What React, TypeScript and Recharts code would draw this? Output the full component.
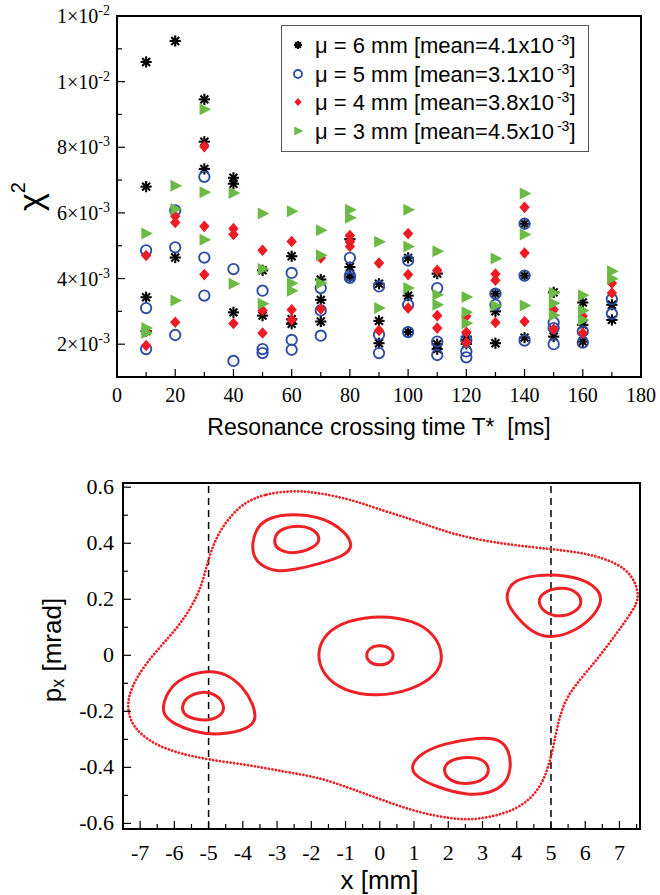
import React from 'react'
import {
  ScatterChart,
  Scatter,
  ComposedChart,
  Line,
  XAxis,
  YAxis,
  Label,
  ReferenceLine,
} from 'recharts'

// chi^2 values, in units of 1e-3, as [T*, chi2]
const mu6 = [
  [10, 10.6], [10, 6.8], [10, 3.43], [10, 2.4],
  [20, 11.24], [20, 4.64],
  [30, 9.46], [30, 8.17], [30, 7.34],
  [40, 7.07], [40, 6.89], [40, 2.97],
  [50, 4.25], [50, 2.87],
  [60, 4.68], [60, 2.76], [60, 2.62],
  [70, 3.97], [70, 3.35], [70, 2.69],
  [80, 5.2], [80, 4.35], [80, 4.05],
  [90, 3.84], [90, 2.71], [90, 2.03],
  [100, 4.63], [100, 3.48], [100, 2.37],
  [110, 4.15], [110, 2.0], [110, 1.85],
  [120, 2.23], [120, 2.01],
  [130, 3.54], [130, 3.0], [130, 2.03],
  [140, 5.67], [140, 4.09], [140, 2.2],
  [150, 3.58], [150, 2.23],
  [160, 3.27], [160, 2.59], [160, 2.08],
  [170, 3.2], [170, 2.74],
]
const mu5 = [
  [10, 4.86], [10, 3.1], [10, 1.85],
  [20, 6.08], [20, 4.95], [20, 2.28],
  [30, 7.1], [30, 4.64], [30, 3.48],
  [40, 4.29], [40, 1.49],
  [50, 3.63], [50, 1.85], [50, 1.73],
  [60, 4.17], [60, 2.13], [60, 1.83],
  [70, 3.71], [70, 3.03], [70, 2.26],
  [80, 4.63], [80, 4.09], [80, 4.02],
  [90, 3.76], [90, 2.29], [90, 1.73],
  [100, 4.55], [100, 3.2], [100, 2.37],
  [110, 3.71], [110, 2.08], [110, 1.67],
  [120, 2.13], [120, 1.78], [120, 1.6],
  [130, 3.54], [130, 3.2],
  [140, 5.67], [140, 4.09], [140, 2.11],
  [150, 2.66], [150, 2.49], [150, 2.0],
  [160, 2.39], [160, 2.05],
  [170, 3.37], [170, 2.93],
]
const mu4 = [
  [10, 4.7], [10, 2.39], [10, 1.96],
  [20, 5.9], [20, 5.71], [20, 2.67],
  [30, 8.02], [30, 5.59], [30, 4.12],
  [40, 5.52], [40, 5.34], [40, 2.63],
  [50, 4.86], [50, 3.03], [50, 2.34],
  [60, 5.13], [60, 3.05], [60, 2.74],
  [70, 4.63], [70, 3.07],
  [80, 5.31], [80, 5.14], [80, 4.98],
  [90, 4.47], [90, 2.42],
  [100, 5.37], [100, 4.12], [100, 3.1],
  [110, 4.25], [110, 2.87], [110, 2.49],
  [120, 2.85], [120, 2.36], [120, 2.05],
  [130, 4.14], [130, 3.95], [130, 2.66],
  [140, 6.17], [140, 4.78], [140, 2.69],
  [150, 3.05], [150, 2.46],
  [160, 2.85], [160, 2.34],
  [170, 3.86], [170, 3.56],
]
const mu3 = [
  [10, 5.37], [10, 2.49], [10, 2.34],
  [20, 6.83], [20, 6.12], [20, 3.33],
  [30, 9.16], [30, 6.63], [30, 5.18],
  [40, 6.61], [40, 3.84],
  [50, 5.98], [50, 4.29], [50, 3.23],
  [60, 6.05], [60, 3.86], [60, 3.63],
  [70, 5.47], [70, 4.71], [70, 3.86],
  [80, 6.1], [80, 5.85],
  [90, 5.12], [90, 3.1],
  [100, 6.1], [100, 4.98], [100, 3.71],
  [110, 4.83], [110, 3.51], [110, 3.2],
  [120, 3.44], [120, 2.97], [120, 2.64],
  [130, 4.61], [130, 3.17],
  [140, 6.59], [140, 5.34], [140, 3.18],
  [150, 3.56], [150, 3.25], [150, 2.88],
  [160, 3.49], [160, 3.03], [160, 2.74],
  [170, 4.22], [170, 3.99],
]
const muLabels = ['6', '5', '4', '3']
const muMeans = ['4.1', '3.1', '3.8', '4.5']

const timeTicks = [0, 10, 20, 30, 40, 50, 60, 70, 80, 90, 100, 110, 120, 130, 140, 150, 160, 170, 180]
const chiTicks = [2, 3, 4, 5, 6, 7, 8, 9, 10, 11, 12]
const timeRange = [0, 180]
const chiRange = [1, 12]

// phase space curves, [x mm, px mrad]
const separatrix = [
  [-2.53, 0.589], [-3.41, 0.575], [-3.99, 0.542], [-4.38, 0.494], [-4.72, 0.435],
  [-4.96, 0.363], [-5.11, 0.292], [-5.26, 0.232], [-5.5, 0.173], [-5.89, 0.101],
  [-6.42, 0.03], [-6.91, -0.042], [-7.25, -0.113], [-7.38, -0.173], [-7.3, -0.232],
  [-7.01, -0.28], [-6.52, -0.321], [-5.84, -0.351], [-4.99, -0.373], [-3.89, -0.39],
  [-2.72, -0.417], [-1.8, -0.435], [-0.85, -0.475], [0.1, -0.518], [1.1, -0.56],
  [2.04, -0.583], [2.75, -0.588], [3.6, -0.568], [4.28, -0.53], [4.77, -0.458],
  [5.01, -0.363], [5.16, -0.268], [5.35, -0.173], [5.74, -0.101], [6.33, -0.018],
  [6.91, 0.077], [7.4, 0.161], [7.57, 0.202], [7.49, 0.256], [7.2, 0.31],
  [6.52, 0.349], [5.74, 0.369], [5.01, 0.379], [3.89, 0.393], [2.63, 0.417],
  [1.65, 0.452], [0.88, 0.488], [0.1, 0.516], [-0.78, 0.554], [-1.75, 0.58],
]
const upperLeftOuter = [
  [-3.73, 0.399], [-3.6, 0.458], [-3.21, 0.494], [-2.53, 0.506], [-1.75, 0.494],
  [-1.17, 0.458], [-0.75, 0.399], [-0.97, 0.357], [-1.75, 0.327], [-2.53, 0.304],
  [-3.02, 0.298], [-3.5, 0.321], [-3.7, 0.357],
]
const upperLeftInner = [
  [-3.09, 0.413], [-2.97, 0.446], [-2.53, 0.464], [-1.99, 0.458], [-1.7, 0.417],
  [-1.9, 0.385], [-2.43, 0.363], [-2.82, 0.369], [-3.05, 0.387],
]
const lowerLeftOuter = [
  [-6.35, -0.179], [-6.13, -0.113], [-5.64, -0.071], [-5.01, -0.054], [-4.48, -0.065],
  [-3.99, -0.113], [-3.7, -0.173], [-3.6, -0.226], [-3.8, -0.262], [-4.67, -0.286],
  [-5.45, -0.274], [-6.03, -0.244], [-6.31, -0.214],
]
const lowerLeftInner = [
  [-5.79, -0.182], [-5.64, -0.149], [-5.26, -0.129], [-4.82, -0.135], [-4.53, -0.173],
  [-4.58, -0.214], [-5.01, -0.235], [-5.5, -0.226], [-5.74, -0.208],
]
const centreOuter = [
  [-1.85, 0.006], [-1.61, 0.077], [-0.97, 0.125], [0.05, 0.143], [0.97, 0.125],
  [1.61, 0.077], [1.88, -0.006], [1.66, -0.071], [0.97, -0.123], [-0.1, -0.149],
  [-1.07, -0.127], [-1.66, -0.071],
]
const centreInner = [
  [-0.42, 0.0], [-0.3, 0.028], [0.0, 0.037], [0.3, 0.028], [0.43, 0.0],
  [0.3, -0.028], [0.0, -0.037], [-0.3, -0.028],
]
const lowerRightOuter = [
  [0.88, -0.399], [1.17, -0.351], [1.85, -0.315], [2.92, -0.292], [3.5, -0.298],
  [3.78, -0.339], [3.84, -0.399], [3.7, -0.458], [3.21, -0.494], [2.53, -0.5],
  [1.65, -0.47], [1.07, -0.435],
]
const lowerRightInner = [
  [1.83, -0.411], [2.0, -0.375], [2.53, -0.361], [3.02, -0.369], [3.23, -0.405],
  [3.07, -0.446], [2.53, -0.462], [2.04, -0.45],
]
const rightOuter = [
  [3.7, 0.221], [3.89, 0.268], [4.58, 0.286], [5.16, 0.289], [5.94, 0.274],
  [6.42, 0.232], [6.49, 0.19], [6.23, 0.137], [5.74, 0.089], [5.06, 0.06],
  [4.48, 0.077], [3.99, 0.137], [3.72, 0.185],
]
const rightInner = [
  [4.59, 0.19], [4.77, 0.226], [5.26, 0.244], [5.74, 0.232], [5.94, 0.19],
  [5.74, 0.155], [5.26, 0.135], [4.82, 0.151],
]
const islands = [
  upperLeftOuter, upperLeftInner, lowerLeftOuter, lowerLeftInner, centreOuter,
  centreInner, lowerRightOuter, lowerRightInner, rightOuter, rightInner,
]

const xTicks = [
  -7.5, -7, -6.5, -6, -5.5, -5, -4.5, -4, -3.5, -3, -2.5, -2, -1.5, -1, -0.5, 0,
  0.5, 1, 1.5, 2, 2.5, 3, 3.5, 4, 4.5, 5, 5.5, 6, 6.5, 7, 7.5,
]
const pTicks = [-0.6, -0.5, -0.4, -0.3, -0.2, -0.1, 0, 0.1, 0.2, 0.3, 0.4, 0.5, 0.6]
const xRange = [-7.5, 7.6]
const pRange = [-0.62, 0.615]
const sepLines = [-5, 5]

const SERIF = '"Liberation Serif", "DejaVu Serif", "Times New Roman", Times, serif'
const SANS = '"Liberation Sans", Arial, Helvetica, sans-serif'
const BLUE = '#2e4ca3'
const RED = '#ec1c24'
const GREEN = '#6cba45'
const CURVE = '#ec2227'

// layout of the two panels
const W = 660
const TOP_H = 440
const TOP_M = { top: 16, right: 19, bottom: 0, left: 0 }
const TOP_YW = 117
const TOP_XH = 63
const BOT_H = 455
const BOT_M = { top: 43, right: 20, bottom: 0, left: 0 }
const BOT_YW = 123
const BOT_XH = 66

const toPts = (arr: number[][]) => arr.map(([x, y]) => ({ x, y }))

// ---- markers ----
const Asterisk = ({ cx, cy, r = 5.6 }: any) => {
  const d = r * 0.707
  return (
    <g stroke="#000" strokeWidth={2.1}>
      <line x1={cx - r} y1={cy} x2={cx + r} y2={cy} />
      <line x1={cx} y1={cy - r} x2={cx} y2={cy + r} />
      <line x1={cx - d} y1={cy - d} x2={cx + d} y2={cy + d} />
      <line x1={cx - d} y1={cy + d} x2={cx + d} y2={cy - d} />
    </g>
  )
}
const Ring = ({ cx, cy, r = 5.2 }: any) => (
  <circle cx={cx} cy={cy} r={r} fill="none" stroke={BLUE} strokeWidth={1.9} />
)
const Diamond = ({ cx, cy, r = 5.8 }: any) => (
  <polygon
    points={`${cx},${cy - r} ${cx + r * 0.9},${cy} ${cx},${cy + r} ${cx - r * 0.9},${cy}`}
    fill={RED}
  />
)
const Tri = ({ cx, cy, r = 6 }: any) => (
  <polygon
    points={`${cx - r * 0.8},${cy - r} ${cx + r * 1.15},${cy} ${cx - r * 0.8},${cy + r}`}
    fill={GREEN}
  />
)
const markers = [Asterisk, Ring, Diamond, Tri]

// ---- ticks ----
const TimeTick = ({ x, y, payload, top }: any) => {
  const v = payload.value
  const major = v % 20 === 0
  const len = major ? 8 : 5
  return (
    <g>
      <line x1={x} x2={x} y1={y} y2={top ? y + len : y - len} stroke="#000" strokeWidth={1.2} />
      {!top && major && (
        <text x={x} y={y + 25} textAnchor="middle" fontFamily={SERIF} fontSize={20} fill="#000">
          {v}
        </text>
      )}
    </g>
  )
}

const ChiTick = ({ x, y, payload, right }: any) => {
  const v = payload.value
  const major = v % 2 === 0
  const len = major ? 8 : 5
  return (
    <g>
      <line x1={x} x2={right ? x - len : x + len} y1={y} y2={y} stroke="#000" strokeWidth={1.2} />
      {!right && major && (
        <text x={x - 7} y={y + 7} textAnchor="end" fontFamily={SERIF} fontSize={20} fill="#000">
          {v >= 10 ? '1' : String(v)}×10
          <tspan dy={-8} fontSize={14}>{v >= 10 ? '-2' : '-3'}</tspan>
        </text>
      )}
    </g>
  )
}

const XTick = ({ x, y, payload, top }: any) => {
  const v = payload.value
  const major = Number.isInteger(v)
  const len = major ? 8 : 5
  const show = major && Math.abs(v) <= 7
  return (
    <g>
      <line x1={x} x2={x} y1={y} y2={top ? y + len : y - len} stroke="#000" strokeWidth={1.2} />
      {!top && show && (
        <text x={x} y={y + 31} textAnchor="middle" fontFamily={SERIF} fontSize={22} fill="#000">
          {v}
        </text>
      )}
    </g>
  )
}

const PTick = ({ x, y, payload, right }: any) => {
  const v = payload.value
  const major = Math.round(v * 10) % 2 === 0
  const len = major ? 8 : 5
  return (
    <g>
      <line x1={x} x2={right ? x - len : x + len} y1={y} y2={y} stroke="#000" strokeWidth={1.2} />
      {!right && major && (
        <text x={x - 9} y={y + 7} textAnchor="end" fontFamily={SERIF} fontSize={22} fill="#000">
          {String(v)}
        </text>
      )}
    </g>
  )
}

// box around a plot area, from the same layout numbers the chart uses
function Frame({ top, left, width, height }: any) {
  return (
    <div
      style={{
        position: 'absolute',
        left: left - 1,
        top: top - 1,
        width: width + 2,
        height: height + 2,
        border: '2px solid #000',
        boxSizing: 'border-box',
        pointerEvents: 'none',
        zIndex: 5,
      }}
    />
  )
}

function LegendBox() {
  return (
    <div
      style={{
        position: 'absolute',
        left: 281,
        top: 25,
        width: 308,
        height: 127,
        border: '1.5px solid #555',
        boxSizing: 'border-box',
        background: '#fff',
        paddingTop: 5,
        fontFamily: SANS,
        fontSize: 22,
        lineHeight: 1,
        zIndex: 6,
      }}
    >
      {muLabels.map((mu, i) => {
        const M = markers[i]
        return (
          <div key={mu} style={{ display: 'flex', alignItems: 'center', height: 28.5, whiteSpace: 'nowrap' }}>
            <svg width={26} height={20} style={{ marginLeft: 3 }}>
              <M cx={13} cy={10} r={i === 3 ? 4.6 : 4} />
            </svg>
            <span style={{ marginLeft: 4 }}>
              μ = {mu} mm [mean={muMeans[i]}x10
              <sup style={{ fontSize: 14, marginLeft: 3, verticalAlign: 8 }}>-3</sup>]
            </span>
          </div>
        )
      })}
    </div>
  )
}

function ChiChart() {
  const series = [mu6, mu5, mu4, mu3]
  return (
    <ScatterChart width={W} height={TOP_H} margin={TOP_M}>
      <XAxis
        type="number"
        dataKey="x"
        domain={timeRange}
        ticks={timeTicks}
        interval={0}
        height={TOP_XH}
        tickSize={0}
        tickMargin={0}
        tickLine={false}
        axisLine={false}
        tick={(p: any) => <TimeTick {...p} />}
      >
        <Label
          content={({ viewBox }: any) => (
            <text
              x={viewBox.x + viewBox.width / 2}
              y={viewBox.y + 58}
              textAnchor="middle"
              fontFamily={SANS}
              fontSize={23}
              fill="#000"
            >
              {'Resonance crossing time T*\u00a0\u00a0[ms]'}
            </text>
          )}
        />
      </XAxis>
      <XAxis
        xAxisId="top"
        orientation="top"
        type="number"
        domain={timeRange}
        ticks={timeTicks}
        interval={0}
        height={0}
        tickSize={0}
        tickMargin={0}
        tickLine={false}
        axisLine={false}
        tick={(p: any) => <TimeTick {...p} top />}
      />
      <YAxis
        type="number"
        dataKey="y"
        domain={chiRange}
        ticks={chiTicks}
        interval={0}
        width={TOP_YW}
        tickSize={0}
        tickMargin={0}
        tickLine={false}
        axisLine={false}
        allowDataOverflow
        tick={(p: any) => <ChiTick {...p} />}
      >
        <Label
          content={({ viewBox }: any) => {
            const cx = 30
            const cy = viewBox.y + viewBox.height / 2
            return (
              <text
                x={cx}
                y={cy}
                transform={`rotate(-90, ${cx}, ${cy})`}
                textAnchor="middle"
                dominantBaseline="central"
                fontFamily={SANS}
                fontSize={34}
                fill="#000"
              >
                χ<tspan dy={-12} fontSize={20}>2</tspan>
              </text>
            )
          }}
        />
      </YAxis>
      <YAxis
        yAxisId="right"
        orientation="right"
        type="number"
        domain={chiRange}
        ticks={chiTicks}
        interval={0}
        width={0}
        tickSize={0}
        tickMargin={0}
        tickLine={false}
        axisLine={false}
        tick={(p: any) => <ChiTick {...p} right />}
      />
      {series.map((s, i) => {
        const M = markers[i]
        return (
          <Scatter
            key={muLabels[i]}
            name={`μ = ${muLabels[i]} mm`}
            data={toPts(s)}
            shape={(p: any) => <M cx={p.cx} cy={p.cy} />}
            isAnimationActive={false}
          />
        )
      })}
    </ScatterChart>
  )
}

function PhaseChart() {
  return (
    <ComposedChart width={W} height={BOT_H} margin={BOT_M}>
      <XAxis
        type="number"
        dataKey="x"
        domain={xRange}
        ticks={xTicks}
        interval={0}
        height={BOT_XH}
        tickSize={0}
        tickMargin={0}
        tickLine={false}
        axisLine={false}
        allowDataOverflow
        tick={(p: any) => <XTick {...p} />}
      >
        <Label
          content={({ viewBox }: any) => (
            <text
              x={viewBox.x + viewBox.width / 2 - 2}
              y={viewBox.y + 60}
              textAnchor="middle"
              fontFamily={SANS}
              fontSize={26}
              fill="#000"
            >
              x [mm]
            </text>
          )}
        />
      </XAxis>
      <XAxis
        xAxisId="top"
        orientation="top"
        type="number"
        domain={xRange}
        ticks={xTicks}
        interval={0}
        height={0}
        tickSize={0}
        tickMargin={0}
        tickLine={false}
        axisLine={false}
        tick={(p: any) => <XTick {...p} top />}
      />
      <YAxis
        type="number"
        domain={pRange}
        ticks={pTicks}
        interval={0}
        width={BOT_YW}
        tickSize={0}
        tickMargin={0}
        tickLine={false}
        axisLine={false}
        allowDataOverflow
        tick={(p: any) => <PTick {...p} />}
      >
        <Label
          content={({ viewBox }: any) => {
            const cx = 52
            const cy = viewBox.y + viewBox.height / 2 - 6
            return (
              <text
                x={cx}
                y={cy}
                transform={`rotate(-90, ${cx}, ${cy})`}
                textAnchor="middle"
                dominantBaseline="central"
                fontFamily={SANS}
                fontSize={26}
                fill="#000"
              >
                p<tspan dy={6} fontSize={18}>x</tspan>
                <tspan dy={-6}>{' [mrad]'}</tspan>
              </text>
            )
          }}
        />
      </YAxis>
      <YAxis
        yAxisId="right"
        orientation="right"
        type="number"
        domain={pRange}
        ticks={pTicks}
        interval={0}
        width={0}
        tickSize={0}
        tickMargin={0}
        tickLine={false}
        axisLine={false}
        tick={(p: any) => <PTick {...p} right />}
      />
      {sepLines.map((v) => (
        <ReferenceLine key={v} x={v} stroke="#000" strokeWidth={1.5} strokeDasharray="7 5" />
      ))}
      <Line
        data={toPts(separatrix)}
        dataKey="y"
        type="basisClosed"
        stroke={CURVE}
        strokeWidth={2.8}
        strokeDasharray="0.01 3.5"
        strokeLinecap="round"
        dot={false}
        activeDot={false}
        isAnimationActive={false}
      />
      {islands.map((c, i) => (
        <Line
          key={i}
          data={toPts(c)}
          dataKey="y"
          type="basisClosed"
          stroke={CURVE}
          strokeWidth={3}
          dot={false}
          activeDot={false}
          isAnimationActive={false}
        />
      ))}
    </ComposedChart>
  )
}

export default function App() {
  return (
    <div style={{ position: 'absolute', left: 0, top: 0, width: W, height: 895, background: '#fff' }}>
      <div style={{ position: 'absolute', left: 0, top: 0, width: W, height: TOP_H }}>
        <ChiChart />
        <Frame
          left={TOP_YW}
          top={TOP_M.top}
          width={W - TOP_YW - TOP_M.right}
          height={TOP_H - TOP_M.top - TOP_XH}
        />
      </div>
      <LegendBox />
      <div style={{ position: 'absolute', left: 0, top: TOP_H, width: W, height: BOT_H }}>
        <PhaseChart />
        <Frame
          left={BOT_YW}
          top={BOT_M.top}
          width={W - BOT_YW - BOT_M.right}
          height={BOT_H - BOT_M.top - BOT_XH}
        />
      </div>
    </div>
  )
}
